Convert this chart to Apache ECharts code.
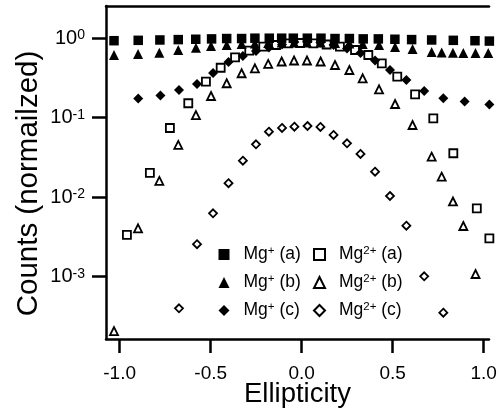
<!DOCTYPE html>
<html>
<head>
<meta charset="utf-8">
<script src="https://cdn.jsdelivr.net/npm/echarts@6/dist/echarts.min.js"></script>
<style>
  html, body { margin: 0; padding: 0; background: #fff; }
  #chart { width: 502px; height: 417px; }
</style>
</head>
<body>
<div id="chart"></div>
<script>
const FONT = '"Liberation Sans", Arial, Helvetica, sans-serif';

// Mg+ (a): filled squares
const ellipMgA = [-1.031, -0.898, -0.779, -0.678, -0.582, -0.495, -0.412, -0.330, -0.257, -0.178, -0.110, -0.046,
                  0.031, 0.106, 0.183, 0.262, 0.338, 0.421, 0.512, 0.604, 0.714, 0.833, 0.952, 1.031];
const countsMgA = [0.93, 0.94, 0.95, 0.96, 0.97, 0.98, 0.99, 0.99, 1.0, 1.0, 1.0, 1.0,
                   1.0, 1.0, 0.99, 0.99, 0.98, 0.98, 0.97, 0.96, 0.95, 0.94, 0.93, 0.92];

// Mg2+ (a): open squares
const ellipMg2A = [-0.960, -0.834, -0.724, -0.623, -0.526, -0.445, -0.366, -0.288, -0.211, -0.141, -0.074, -0.009,
                   0.064, 0.137, 0.210, 0.293, 0.366, 0.440, 0.525, 0.623, 0.723, 0.833, 0.962, 1.031];
const countsMg2A = [0.00335, 0.0202, 0.0742, 0.152, 0.284, 0.425, 0.575, 0.697, 0.782, 0.821, 0.863, 0.870,
                    0.863, 0.833, 0.782, 0.710, 0.615, 0.483, 0.328, 0.197, 0.0983, 0.0357, 0.00725, 0.00304];

// Mg+ (b): filled triangles
const ellipMgB = [-1.031, -0.899, -0.782, -0.678, -0.581, -0.498, -0.412, -0.330, -0.257, -0.184, -0.110, -0.042,
                  0.029, 0.104, 0.183, 0.262, 0.335, 0.425, 0.513, 0.609, 0.714, 0.769, 0.831, 0.888, 0.955, 1.025];
const countsMgB = [0.615, 0.633, 0.657, 0.710, 0.760, 0.798, 0.821, 0.845, 0.858, 0.870, 0.883, 0.883,
                   0.883, 0.883, 0.870, 0.858, 0.845, 0.821, 0.775, 0.732, 0.671, 0.661, 0.657, 0.651, 0.651, 0.651];

// Mg2+ (b): open triangles
const ellipMg2B = [-1.031, -0.899, -0.782, -0.678, -0.581, -0.498, -0.412, -0.330, -0.257, -0.184, -0.110, -0.042,
                   0.029, 0.104, 0.183, 0.262, 0.335, 0.425, 0.513, 0.609, 0.714, 0.769, 0.831, 0.888, 0.955];
const countsMg2B = [0.000207, 0.00406, 0.0160, 0.0454, 0.108, 0.1875, 0.271, 0.362, 0.418, 0.474, 0.509, 0.524,
                    0.524, 0.509, 0.460, 0.398, 0.313, 0.2276, 0.1487, 0.0809, 0.0323, 0.0181, 0.00883, 0.00434, 0.00108];

// Mg+ (c): filled diamonds
const ellipMgC = [-0.898, -0.776, -0.674, -0.575, -0.487, -0.402, -0.323, -0.251, -0.180, -0.108, -0.040,
                  0.032, 0.103, 0.175, 0.249, 0.323, 0.403, 0.485, 0.575, 0.673, 0.778, 0.895, 1.031];
const countsMgC = [0.174, 0.190, 0.223, 0.265, 0.365, 0.502, 0.597, 0.690, 0.764, 0.833, 0.896,
                   0.909, 0.883, 0.821, 0.742, 0.651, 0.524, 0.398, 0.298, 0.217, 0.175, 0.160, 0.147];

// Mg2+ (c): open diamonds
const ellipMg2C = [-0.674, -0.575, -0.487, -0.402, -0.323, -0.251, -0.180, -0.108, -0.040,
                   0.032, 0.103, 0.175, 0.249, 0.323, 0.403, 0.485, 0.575, 0.673, 0.778];
const countsMg2C = [0.00040, 0.00256, 0.00627, 0.0150, 0.0288, 0.0463, 0.0667, 0.0742, 0.0770,
                    0.0786, 0.0764, 0.0606, 0.0476, 0.0350, 0.0209, 0.01035, 0.00438, 0.00101, 0.000352];

// Axis ticks
const xTickValues = [-1.0, -0.5, 0.0, 0.5, 1.0];
const yTickValues = [0.001, 0.01, 0.1, 1];

const X_MIN = -1.075, X_MAX = 1.029;
const Y_MIN = 1.644e-4, Y_MAX = 2.541;

const pairs = (xs, ys) => xs.map((x, i) => [x, ys[i]]);

const AXIS_LINE = { show: true, onZero: false, lineStyle: { color: '#000', width: 2.5 } };
const TICK = { show: true, inside: false, length: 14, lineStyle: { color: '#000', width: 2.5 } };

function hollow(name, symbol, size, xs, ys) {
  return {
    name, type: 'scatter', symbol, symbolSize: size, clip: false,
    data: pairs(xs, ys),
    itemStyle: { color: '#fff', borderColor: '#000', borderWidth: 1.8, opacity: 1 },
    emphasis: { disabled: true }
  };
}
function filled(name, symbol, size, xs, ys) {
  return {
    name, type: 'scatter', symbol, symbolSize: size, clip: false,
    data: pairs(xs, ys),
    itemStyle: { color: '#000', opacity: 1 },
    emphasis: { disabled: true }
  };
}

// Legend entries: "Mg" + superscript charge + " (run)", pushed right of the marker
const LEG_TXT = { fontFamily: FONT, fontSize: 17.5, color: '#000', lineHeight: 20 };
const legendText = Object.assign({}, LEG_TXT, {
  rich: {
    ion: Object.assign({}, LEG_TXT, { padding: [0, 0, 0, 9] }),
    sup: { fontFamily: FONT, fontSize: 11.5, color: '#000', lineHeight: 10, verticalAlign: 'top' },
    run: Object.assign({}, LEG_TXT)
  }
});
const legendFmt = name => {
  const m = name.match(/^Mg(2?\+) (.*)$/);
  return '{ion|Mg}{sup|' + m[1] + '}{run| ' + m[2] + '}';
};
const legendBase = {
  orient: 'vertical', top: 244.5, padding: 0, itemWidth: 11, itemHeight: 11, itemGap: 8,
  formatter: legendFmt, textStyle: legendText, selectedMode: false
};

const chart = echarts.init(document.getElementById('chart'), null, { renderer: 'canvas' });
chart.setOption({
  animation: false,
  backgroundColor: '#fff',
  grid: { left: 106, right: 13, top: 6, bottom: 78, containLabel: false, outerBoundsMode: 'none' },
  legend: [
    Object.assign({ data: ['Mg+ (a)', 'Mg+ (b)', 'Mg+ (c)'], left: 218.5 }, legendBase),
    Object.assign({ data: ['Mg2+ (a)', 'Mg2+ (b)', 'Mg2+ (c)'], left: 313 }, legendBase)
  ],
  xAxis: [
    {
      type: 'value', position: 'bottom', min: X_MIN, max: X_MAX,
      axisLine: AXIS_LINE,
      axisTick: Object.assign({ customValues: xTickValues }, TICK),
      axisLabel: {
        customValues: xTickValues, margin: 25, fontFamily: FONT, fontSize: 19, color: '#000',
        formatter: v => v.toFixed(1)
      },
      splitLine: { show: false },
      name: 'Ellipticity', nameLocation: 'middle', nameGap: 41, nameMoveOverlap: false,
      nameTextStyle: { fontFamily: FONT, fontSize: 27.5, color: '#000' }
    },
    {
      type: 'value', position: 'top', min: X_MIN, max: X_MAX,
      axisLine: AXIS_LINE, axisTick: { show: false }, axisLabel: { show: false }, splitLine: { show: false }
    }
  ],
  yAxis: {
    type: 'log', logBase: 10, min: Y_MIN, max: Y_MAX,
    axisLine: AXIS_LINE,
    axisTick: Object.assign({ customValues: yTickValues }, TICK),
    axisLabel: {
      customValues: yTickValues, margin: 21, color: '#000',
      formatter: v => '{base|10}{sup|' + Math.round(Math.log10(v)) + '}',
      rich: {
        base: { fontFamily: FONT, fontSize: 20, color: '#000', lineHeight: 20, padding: [8, 0, 0, 0], verticalAlign: 'bottom' },
        sup: { fontFamily: FONT, fontSize: 14, color: '#000', lineHeight: 14, verticalAlign: 'top' }
      }
    },
    splitLine: { show: false },
    name: 'Counts (normailzed)', nameLocation: 'middle', nameGap: 62, nameMoveOverlap: false,
    nameTextStyle: { fontFamily: FONT, fontSize: 29.5, color: '#000', padding: [0, 22, 0, 0] }
  },
  series: [
    hollow('Mg2+ (a)', 'rect', 8, ellipMg2A, countsMg2A),
    hollow('Mg2+ (b)', 'triangle', 8, ellipMg2B, countsMg2B),
    hollow('Mg2+ (c)', 'diamond', 8, ellipMg2C, countsMg2C),
    filled('Mg+ (a)', 'rect', 9.5, ellipMgA, countsMgA),
    filled('Mg+ (b)', 'triangle', 10, ellipMgB, countsMgB),
    filled('Mg+ (c)', 'diamond', 10, ellipMgC, countsMgC)
  ]
});
</script>
</body>
</html>
